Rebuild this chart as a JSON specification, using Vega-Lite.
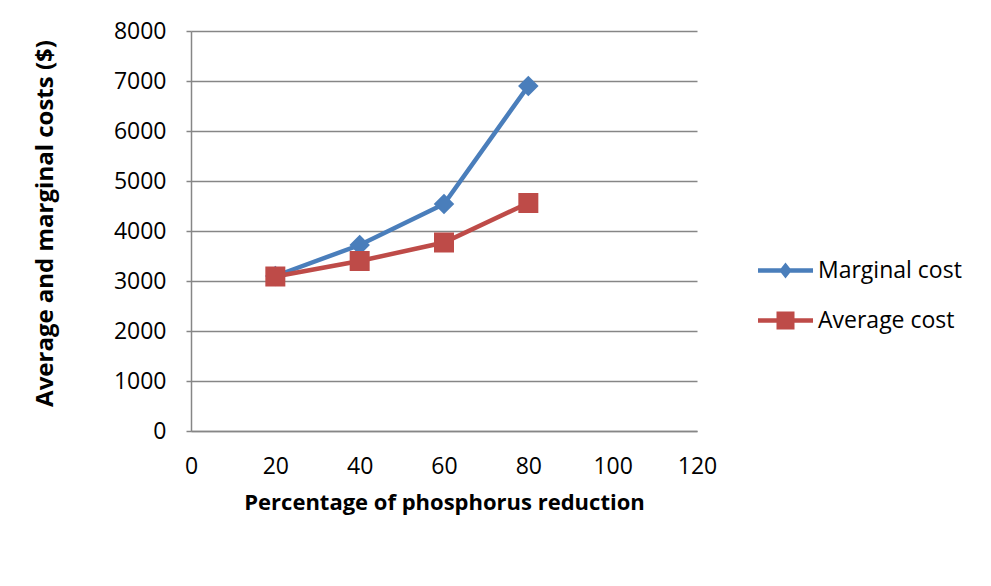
{
  "$schema": "https://vega.github.io/schema/vega-lite/v6.json",
  "autosize": "none",
  "width": 506,
  "height": 400,
  "padding": {"left": 191, "top": 31, "right": 294, "bottom": 155},
  "background": "white",
  "config": {
    "view": {"stroke": null},
    "font": "Open Sans"
  },
  "data": {
    "values": [
      {"pct": 20, "cost": 3100, "series": "Marginal cost"},
      {"pct": 40, "cost": 3720, "series": "Marginal cost"},
      {"pct": 60, "cost": 4540, "series": "Marginal cost"},
      {"pct": 80, "cost": 6900, "series": "Marginal cost"},
      {"pct": 20, "cost": 3090, "series": "Average cost"},
      {"pct": 40, "cost": 3400, "series": "Average cost"},
      {"pct": 60, "cost": 3770, "series": "Average cost"},
      {"pct": 80, "cost": 4560, "series": "Average cost"}
    ]
  },
  "encoding": {
    "x": {
      "field": "pct",
      "type": "quantitative",
      "scale": {"domain": [0, 120], "nice": false, "zero": true},
      "axis": {
        "title": "Percentage of phosphorus reduction",
        "values": [0, 20, 40, 60, 80, 100, 120],
        "grid": false,
        "ticks": false,
        "domainColor": "#868686",
        "domainWidth": 1.5,
        "labelFont": "Open Sans",
        "labelFontSize": 23,
        "labelColor": "#000000",
        "labelPadding": 24,
        "labelFlush": false,
        "titleFont": "Open Sans",
        "titleFontWeight": "bold",
        "titleFontSize": 22,
        "titleColor": "#000000",
        "titlePadding": 14
      }
    },
    "y": {
      "field": "cost",
      "type": "quantitative",
      "scale": {"domain": [0, 8000], "nice": false},
      "axis": {
        "title": "Average and marginal costs ($)",
        "values": [0, 1000, 2000, 3000, 4000, 5000, 6000, 7000, 8000],
        "format": "d",
        "grid": true,
        "gridColor": "#868686",
        "gridWidth": 1.5,
        "tickColor": "#868686",
        "tickSize": 5,
        "tickWidth": 1.5,
        "domainColor": "#868686",
        "domainWidth": 1.5,
        "labelFont": "Open Sans",
        "labelFontSize": 23,
        "labelColor": "#000000",
        "labelPadding": 20,
        "labelFlush": false,
        "titleFont": "Open Sans",
        "titleFontWeight": "bold",
        "titleFontSize": 24,
        "titleColor": "#000000",
        "titleAngle": -90,
        "titleX": -139,
        "titleY": 192,
        "titleAlign": "center",
        "titleBaseline": "alphabetic"
      }
    },
    "color": {
      "field": "series",
      "type": "nominal",
      "scale": {"domain": ["Marginal cost", "Average cost"], "range": ["#4A7EBB", "#BE4B48"]},
      "legend": {
        "orient": "none",
        "legendX": 583,
        "legendY": 228,
        "title": null,
        "padding": 0,
        "labelFont": "Open Sans",
        "labelFontSize": 23,
        "labelColor": "#000000",
        "labelOffset": 21,
        "rowPadding": 26,
        "symbolSize": 100,
        "symbolStrokeWidth": 0,
        "symbolOpacity": 1
      }
    }
  },
  "layer": [
    {
      "transform": [{"filter": "false"}],
      "mark": {"type": "point", "filled": true, "opacity": 1, "strokeWidth": 0},
      "encoding": {
        "shape": {
          "field": "series",
          "type": "nominal",
          "scale": {
            "domain": ["Marginal cost", "Average cost"],
            "range": [
              "M-5.5,-0.45H5.5V0.45H-5.5Z M0,-1.6L1.25,0L0,1.6L-1.25,0Z",
              "M-5.5,-0.45H5.5V0.45H-5.5Z M-1.8,-1.8H1.8V1.8H-1.8Z"
            ]
          },
          "legend": null
        }
      }
    },
    {
      "mark": {"type": "line", "strokeWidth": 4.5}
    },
    {
      "transform": [{"filter": "datum.series === 'Marginal cost'"}],
      "mark": {"type": "point", "shape": "diamond", "size": 420, "filled": true, "opacity": 1, "strokeWidth": 0}
    },
    {
      "transform": [{"filter": "datum.series === 'Average cost'"}],
      "mark": {"type": "point", "shape": "square", "size": 400, "filled": true, "opacity": 1, "strokeWidth": 0}
    }
  ]
}
